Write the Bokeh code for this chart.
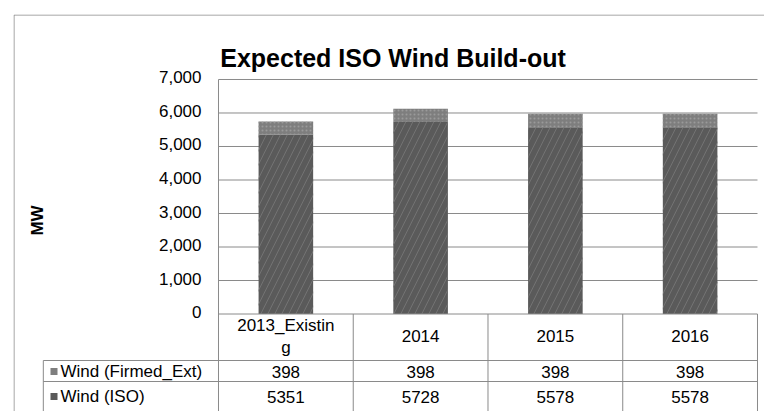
import numpy as np
from bokeh.plotting import figure
from bokeh.models import Range1d
from bokeh.core.properties import value
from bokeh.embed import file_html
from bokeh.resources import INLINE

# ---- data ----
categories = ["2013_Existing", "2014", "2015", "2016"]
series_names = ["Wind (Firmed_Ext)", "Wind (ISO)"]
wind_firmed_ext = [398, 398, 398, 398]
wind_iso = [5351, 5728, 5578, 5578]
y_ticks = [0, 1000, 2000, 3000, 4000, 5000, 6000, 7000]
y_tick_labels = ["0", "1,000", "2,000", "3,000", "4,000", "5,000", "6,000", "7,000"]
title_text = "Expected  ISO Wind Build-out"
y_label = "MW"

FONT = value("Liberation Sans")
ISO_COLOR = "#5a5a5a"
FIRM_COLOR = "#7e7e7e"
LINE_COLOR = "#8a8a8a"

# canvas at page (0,0); frame spans page x 13..764, y 14..411
p = figure(width=764, height=411, output_backend="svg", toolbar_location=None,
           x_axis_location=None, y_axis_location=None, title=None,
           min_border_left=13, min_border_right=0, min_border_top=14, min_border_bottom=0,
           x_range=Range1d(-1.5213, 4.052), y_range=Range1d(-2910, 8940))
p.background_fill_color = "white"
p.border_fill_color = "white"
p.outline_line_color = None
p.grid.visible = False
# pixel-like helper ranges for layout elements (table, labels)
p.extra_x_ranges = {"px": Range1d(13, 764)}
p.extra_y_ranges = {"px": Range1d(411, 14)}

# outer chart-area box (left and top edges visible in the crop)
p.segment(x0=[13.5, 13.5], x1=[13.5, 764], y0=[14.5, 14.5], y1=[411, 14.5],
          x_range_name="px", y_range_name="px", line_color=LINE_COLOR, line_width=1)

n = len(categories)
xc = np.arange(n) + 0.5
firm_bottom = list(wind_iso)
firm_top = [a + b for a, b in zip(wind_iso, wind_firmed_ext)]

# gridlines & left border of plot area
grid_ticks = [t for t in y_ticks if t > 0]
p.segment(x0=[0] * len(grid_ticks), x1=[n] * len(grid_ticks), y0=grid_ticks, y1=grid_ticks,
          line_color=LINE_COLOR, line_width=1)
p.segment(x0=[0], x1=[0], y0=[0], y1=[max(y_ticks)], line_color=LINE_COLOR, line_width=1)

# stacked bars
p.vbar(x=xc, width=0.405, bottom=0, top=wind_iso, fill_color=ISO_COLOR, line_color=None,
       hatch_pattern="/", hatch_color="#727272", hatch_scale=14, hatch_weight=1)
p.vbar(x=xc, width=0.405, bottom=firm_bottom, top=firm_top, fill_color=FIRM_COLOR, line_color=None,
       hatch_pattern=".", hatch_color="#9a9a9a", hatch_scale=4, hatch_weight=1)

# y tick labels
p.text(x=[201] * len(y_ticks), y=y_ticks, text=y_tick_labels, x_range_name="px",
       text_align="right", text_baseline="middle", text_font=FONT, text_font_size="17px",
       text_color="black", y_offset=-2)

# title
p.text(x=[396], y=[57], text=[title_text], x_range_name="px", y_range_name="px",
       text_align="center", text_baseline="alphabetic", text_font=FONT,
       text_font_size="25px", text_font_style="bold", text_color="black")

# y axis label
p.text(x=[37], y=[220], text=[y_label], x_range_name="px", y_range_name="px",
       angle=np.pi / 2, text_align="center", text_baseline="middle", text_font=FONT,
       text_font_size="17px", text_font_style="bold", text_color="black")

# ---- data table ----
HDR_TOP, ROW1_TOP, ROW2_TOP, TBL_BOT = 313.5, 360, 381, 411
LABEL_LEFT = -1.30  # in category units
# axis / header top line
p.segment(x0=[0], x1=[n], y0=[0], y1=[0], line_color=LINE_COLOR, line_width=1)
# column dividers
p.segment(x0=list(range(n + 1)), x1=list(range(n + 1)), y0=[HDR_TOP] * (n + 1),
          y1=[TBL_BOT] * (n + 1), y_range_name="px", line_color=LINE_COLOR, line_width=1)
# row lines and label column border
p.segment(x0=[LABEL_LEFT] * 2, x1=[n] * 2, y0=[ROW1_TOP, ROW2_TOP], y1=[ROW1_TOP, ROW2_TOP],
          y_range_name="px", line_color=LINE_COLOR, line_width=1)
p.segment(x0=[LABEL_LEFT], x1=[LABEL_LEFT], y0=[ROW1_TOP], y1=[TBL_BOT],
          y_range_name="px", line_color=LINE_COLOR, line_width=1)

# header (category names, wrapped like the original)
wrap = 12
hdr_x, hdr_y, hdr_t = [], [], []
for i, c in enumerate(categories):
    if len(c) > wrap:
        parts = [c[:wrap], c[wrap:]]
        hdr_x += [xc[i]] * 2
        hdr_y += [325, 347]
        hdr_t += parts
    else:
        hdr_x.append(xc[i])
        hdr_y.append(335)
        hdr_t.append(c)
p.text(x=hdr_x, y=hdr_y, text=hdr_t, y_range_name="px", text_align="center",
       text_baseline="middle", text_font=FONT, text_font_size="17px", text_color="black")

# rows
row_y = [371, 396]
row_vals = [wind_firmed_ext, wind_iso]
row_colors = [FIRM_COLOR, ISO_COLOR]
for ry, name, vals, col in zip(row_y, series_names, row_vals, row_colors):
    p.rect(x=[53.5], y=[ry], width=7, height=7, x_range_name="px", y_range_name="px",
           fill_color=col, line_color=None)
    p.text(x=[60], y=[ry], text=[name], x_range_name="px", y_range_name="px",
           text_align="left", text_baseline="middle", text_font=FONT,
           text_font_size="17px", text_color="black")
    p.text(x=xc, y=[ry] * n, text=[str(v) for v in vals], y_range_name="px",
           text_align="center", text_baseline="middle", text_font=FONT,
           text_font_size="17px", text_color="black")

open("out.html", "w").write(file_html(p, INLINE))
